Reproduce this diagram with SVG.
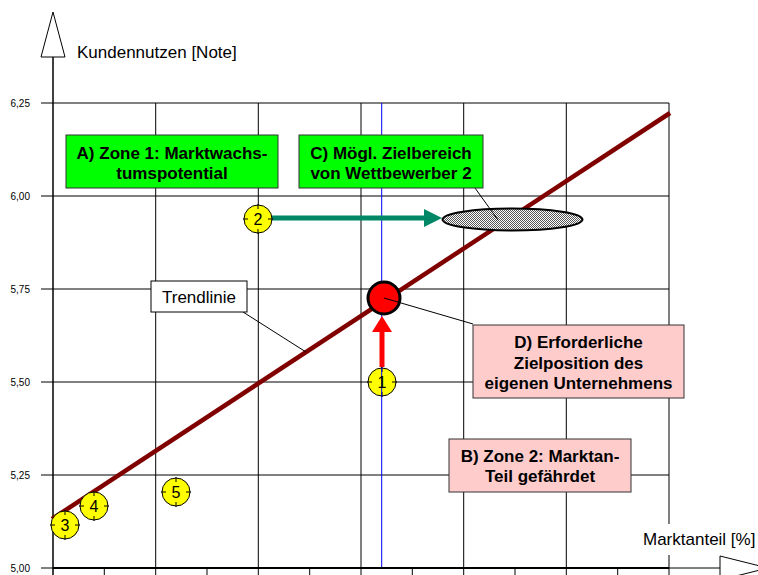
<svg xmlns="http://www.w3.org/2000/svg" width="758" height="575" viewBox="0 0 758 575">
<style>
.grid{stroke:#000;stroke-width:1;fill:none}
.yl{font-family:"Liberation Sans",Arial,sans-serif;font-size:10px;fill:#000;text-anchor:end}
.lab{font-family:"Liberation Sans",Arial,sans-serif;font-size:17px;fill:#000}
.bx{font-family:"Liberation Sans",Arial,sans-serif;font-size:17px;font-weight:bold;fill:#000;text-anchor:middle}
.num{font-family:"Liberation Sans",Arial,sans-serif;font-size:16px;fill:#000;text-anchor:middle}
.pt{fill:#ffff00;stroke:#000;stroke-width:1}
.tk{stroke:#000;stroke-width:1}
.lead{stroke:#000;stroke-width:1;fill:none}
</style>
<defs>
<pattern id="hatch" width="2" height="2" patternUnits="userSpaceOnUse">
<rect width="2" height="2" fill="#ffffff"/>
<rect width="1" height="1" fill="#555"/>
<rect x="1" y="1" width="1" height="1" fill="#555"/>
</pattern>
<g id="tks">
<line class="tk" x1="-15" y1="0" x2="-10" y2="0"/>
<line class="tk" x1="10" y1="0" x2="15" y2="0"/>
<line class="tk" x1="0" y1="-15" x2="0" y2="-10"/>
<line class="tk" x1="0" y1="10" x2="0" y2="15"/>
</g>
</defs>
<rect width="758" height="575" fill="#fff"/>
<g id="grid">
<path class="grid" d="M53,103H669M53,196H669M53,289H669M53,382H669M53,475H669"/>
<path class="grid" d="M155.7,103V568M258.3,103V568M361,103V568M463.7,103V568M566.3,103V568M669,103V568"/>
<path class="grid" d="M41,103H53M41,196H53M41,289H53M41,382H53M41,475H53M41,568H53"/>
<path class="grid" d="M104.3,568V575M155.7,568V575M207,568V575M258.3,568V575M309.7,568V575M361,568V575M412.3,568V575M463.7,568V575M515,568V575M566.3,568V575M617.7,568V575M669,568V575"/>
<line x1="381.7" y1="103" x2="381.7" y2="568" stroke="#0000ff" stroke-width="1"/>
</g>
<g id="axes">
<line x1="53" y1="57" x2="53" y2="575" stroke="#000" stroke-width="1.5"/>
<polygon points="53,12 65,57 41,57" fill="#fff" stroke="#000" stroke-width="1"/>
<line x1="53" y1="568" x2="669" y2="568" stroke="#000" stroke-width="2"/>
<line x1="669" y1="568" x2="720" y2="568" stroke="#000" stroke-width="1"/>
<rect x="636" y="524" width="122" height="31" fill="#fff"/>
<polygon points="720,556 768,568 720,580" fill="#fff" stroke="#000" stroke-width="1"/>
<text class="lab" x="77" y="58">Kundennutzen [Note]</text>
<text class="lab" x="643" y="545">Marktanteil [%]</text>
<text class="yl" x="30" y="107">6,25</text>
<text class="yl" x="30" y="200">6,00</text>
<text class="yl" x="30" y="293">5,75</text>
<text class="yl" x="30" y="386">5,50</text>
<text class="yl" x="30" y="479">5,25</text>
<text class="yl" x="30" y="572">5,00</text>
</g>
<g id="connectors">
<line x1="52" y1="519" x2="670" y2="113" stroke="#800000" stroke-width="4.5"/>
<line class="lead" x1="243" y1="312" x2="306" y2="352"/>
<line x1="272" y1="218" x2="426" y2="218" stroke="#008866" stroke-width="5"/>
<polygon points="424,209 442,218 424,227" fill="#008866"/>
<line x1="382" y1="367" x2="382" y2="330" stroke="#ff0000" stroke-width="5"/>
<polygon points="372,332 382,316 392,332" fill="#ff0000"/>
</g>
<g id="ellipseC">
<ellipse cx="512.5" cy="219.5" rx="70" ry="11" fill="url(#hatch)" stroke="#000" stroke-width="2"/>
<line class="lead" x1="475" y1="188" x2="498" y2="220"/>
</g>
<g id="targetD">
<circle cx="384" cy="298" r="16" fill="#ff0000" stroke="#000" stroke-width="3"/>
<line class="lead" x1="384" y1="298" x2="473" y2="324"/>
</g>
<g id="p1"><circle class="pt" cx="382" cy="382" r="14"/><use href="#tks" x="382" y="382"/><line x1="381.7" y1="368" x2="381.7" y2="396" stroke="#0000ff" stroke-width="1"/><text class="num" x="382" y="388">1</text></g>
<g id="p2"><circle class="pt" cx="258" cy="219" r="14"/><use href="#tks" x="258" y="219"/><text class="num" x="258" y="225">2</text></g>
<g id="p3"><circle class="pt" cx="65" cy="525" r="14"/><use href="#tks" x="65" y="525"/><text class="num" x="65" y="531">3</text></g>
<g id="p4"><circle class="pt" cx="94" cy="506" r="14"/><use href="#tks" x="94" y="506"/><text class="num" x="94" y="512">4</text></g>
<g id="p5"><circle class="pt" cx="176" cy="492" r="14"/><use href="#tks" x="176" y="492"/><text class="num" x="176" y="498">5</text></g>
<g id="boxA">
<rect x="66" y="135" width="212" height="53" fill="#00ff00" stroke="#333" stroke-width="1"/>
<text class="bx" x="172" y="159">A) Zone 1: Marktwachs-</text>
<text class="bx" x="172" y="179">tumspotential</text>
</g>
<g id="boxC">
<rect x="299" y="135" width="184" height="53" fill="#00ff00" stroke="#333" stroke-width="1"/>
<text class="bx" x="391" y="159">C) Mögl. Zielbereich</text>
<text class="bx" x="391" y="179">von Wettbewerber 2</text>
</g>
<g id="boxD">
<rect x="473" y="325" width="211" height="73" fill="#ffcccc" stroke="#333" stroke-width="1"/>
<text class="bx" x="578.5" y="348">D) Erforderliche</text>
<text class="bx" x="578.5" y="369">Zielposition des</text>
<text class="bx" x="578.5" y="389">eigenen Unternehmens</text>
</g>
<g id="boxB">
<rect x="449" y="439" width="182" height="53" fill="#ffcccc" stroke="#333" stroke-width="1"/>
<text class="bx" x="540" y="462">B) Zone 2: Marktan-</text>
<text class="bx" x="540" y="482">Teil gefährdet</text>
</g>
<g id="trend">
<rect x="151" y="281" width="96" height="31" fill="#fff" stroke="#000" stroke-width="1"/>
<text class="lab" x="199" y="303" text-anchor="middle">Trendlinie</text>
</g>
</svg>
